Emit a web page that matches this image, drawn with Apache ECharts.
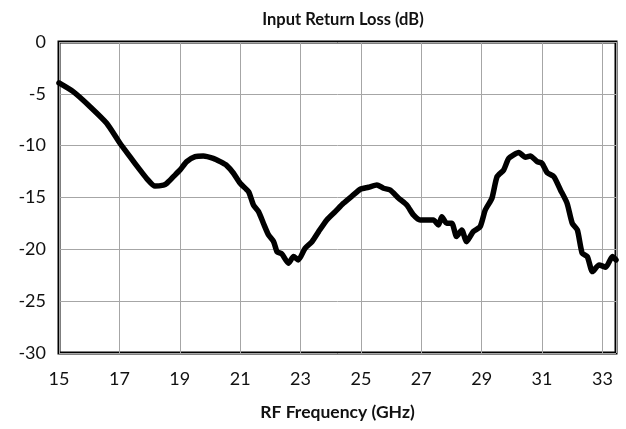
<!DOCTYPE html>
<html>
<head>
<meta charset="utf-8">
<script src="https://cdn.jsdelivr.net/npm/echarts@6/dist/echarts.min.js"></script>
<style>
html,body{margin:0;padding:0;background:#fff;}
#c{width:626px;height:429px;}
</style>
</head>
<body>
<div id="c"></div>
<script>
// Data
const TITLE = 'Input Return Loss (dB)';
const X_NAME = 'RF Frequency (GHz)';
const X_MIN = 15, X_MAX = 33.45, X_STEP = 2;
const Y_MIN = -30, Y_MAX = 0, Y_STEP = 5;

const freqGHz = [15.0, 15.47, 16.03, 16.58, 17.02, 17.35, 17.68, 17.9, 18.18, 18.46, 18.57, 18.79, 19.01, 19.23, 19.51, 19.78, 20.11, 20.34, 20.55, 20.78, 21.0, 21.28, 21.44, 21.61, 21.77, 21.94, 22.11, 22.22, 22.38, 22.6, 22.77, 22.93, 23.15, 23.38, 23.6, 23.87, 24.15, 24.42, 24.75, 24.98, 25.25, 25.53, 25.75, 25.97, 26.25, 26.52, 26.74, 26.96, 27.4, 27.57, 27.68, 27.84, 28.01, 28.17, 28.34, 28.5, 28.72, 28.95, 29.12, 29.34, 29.51, 29.73, 29.9, 30.23, 30.45, 30.61, 30.84, 31.0, 31.17, 31.39, 31.61, 31.83, 32.0, 32.17, 32.33, 32.5, 32.67, 32.89, 33.11, 33.33, 33.45];
const returnLossDb = [-3.95, -4.79, -6.24, -7.84, -9.77, -11.06, -12.34, -13.15, -13.9, -13.8, -13.63, -12.99, -12.34, -11.54, -11.06, -10.99, -11.22, -11.54, -11.9, -12.66, -13.63, -14.44, -15.72, -16.36, -17.48, -18.61, -19.26, -20.22, -20.44, -21.34, -20.7, -21.02, -19.9, -19.26, -18.29, -17.16, -16.36, -15.56, -14.75, -14.2, -14.01, -13.79, -14.11, -14.27, -15.07, -15.72, -16.68, -17.16, -17.16, -17.65, -16.85, -17.48, -17.48, -18.77, -18.13, -19.26, -18.29, -17.81, -16.2, -15.07, -12.99, -12.34, -11.22, -10.67, -11.12, -10.99, -11.54, -11.7, -12.6, -12.99, -14.27, -15.56, -17.48, -18.13, -20.38, -20.7, -22.15, -21.5, -21.73, -20.7, -21.02];

// x axis is drawn relative to X_MIN so ticks start exactly at 15
const seriesData = freqGHz.map((f, i) => [f - X_MIN, returnLossDb[i]]);

const FONT = 'Lato, "Open Sans", sans-serif';
const chart = echarts.init(document.getElementById('c'), null, {renderer: 'canvas'});
chart.setOption({
  animation: false,
  backgroundColor: '#fff',
  title: {
    text: TITLE,
    left: 338, top: 6, textAlign: 'center',
    textStyle: {fontFamily: FONT, fontSize: 16.5, fontWeight: 'bold', color: '#111'}
  },
  grid: {
    left: 59, right: 10, top: 42, bottom: 76,
    show: true, borderColor: '#000', borderWidth: 3, backgroundColor: 'transparent'
  },
  xAxis: {
    type: 'value', min: 0, max: X_MAX - X_MIN, interval: X_STEP,
    name: X_NAME, nameLocation: 'middle', nameGap: 50,
    nameTextStyle: {fontFamily: FONT, fontSize: 17.5, fontWeight: 'bold', color: '#111'},
    axisLine: {show: false},
    axisTick: {show: false},
    axisLabel: {
      margin: 17, fontFamily: FONT, fontSize: 18, color: '#111',
      formatter: v => String(Math.round(v + X_MIN)), showMaxLabel: false
    },
    splitLine: {show: true, lineStyle: {color: '#a6a6a6', width: 1}}
  },
  yAxis: {
    type: 'value', min: Y_MIN, max: Y_MAX, interval: Y_STEP,
    axisLine: {show: false},
    axisTick: {show: false},
    axisLabel: {margin: 13, fontFamily: FONT, fontSize: 18, color: '#111'},
    splitLine: {show: true, lineStyle: {color: '#a6a6a6', width: 1}}
  },
  series: [{
    type: 'line',
    data: seriesData,
    showSymbol: false,
    smooth: 0.2,
    clip: true,
    lineStyle: {color: '#000', width: 5.5, join: 'round', cap: 'round'},
    z: 3
  }]
});
</script>
</body>
</html>
